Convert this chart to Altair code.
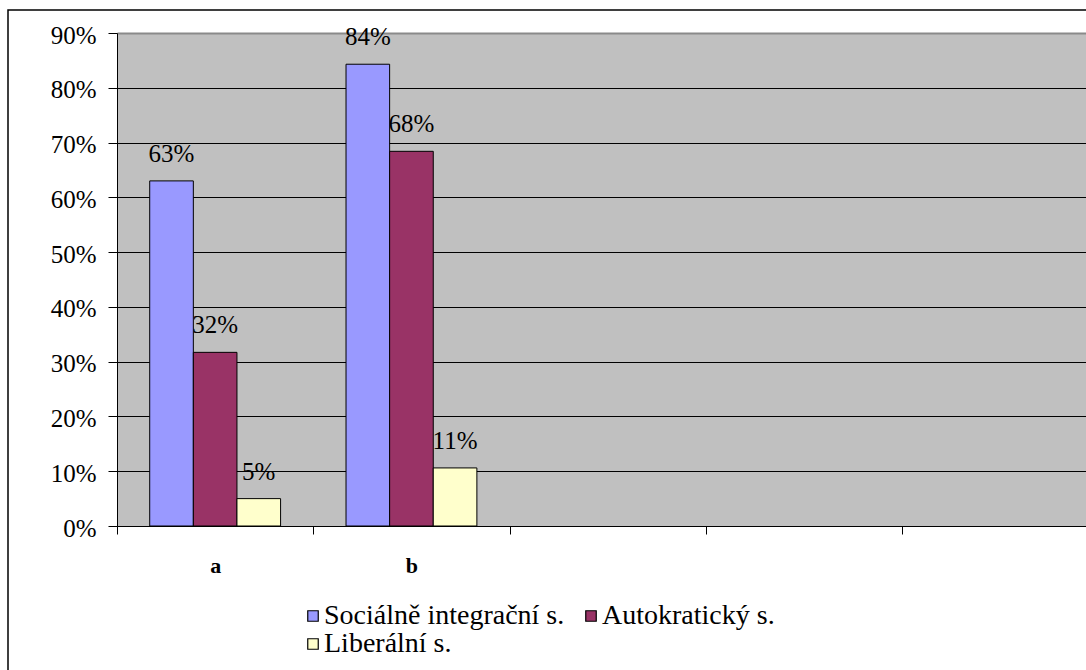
import altair as alt
import pandas as pd

# Category slots along the x axis (only the first two hold data)
slots = ["a", "b", "c", "d", "e"]
categories = ["a", "b"]
series = ["Sociálně integrační s.", "Autokratický s.", "Liberální s."]
colors = ["#9999FF", "#993366", "#FFFFCC"]

# Shares per category, one list per series
social = [0.63, 0.843]
autocratic = [0.317, 0.684]
liberal = [0.05, 0.106]

y_ticks = [0.0, 0.1, 0.2, 0.3, 0.4, 0.5, 0.6, 0.7, 0.8, 0.9]

rows = []
for name, vals in zip(series, [social, autocratic, liberal]):
    for cat, v in zip(categories, vals):
        rows.append({"category": cat, "series": name, "value": v})
df = pd.DataFrame(rows)

FONT = "Liberation Serif"

x_enc = alt.X(
    "category:N",
    scale=alt.Scale(domain=slots, range=[0, 981.5], paddingInner=0, paddingOuter=0),
    axis=alt.Axis(
        title=None,
        labelExpr="indexof(['a','b'], datum.value) >= 0 ? datum.value : ''",
        labelAngle=0,
        labelFont=FONT,
        labelFontSize=22,
        labelFontWeight="bold",
        labelColor="black",
        labelPadding=21,
        tickBand="extent",
        tickSize=8,
        tickColor="black",
        domainColor="black",
        grid=False,
    ),
)
xoff_enc = alt.XOffset(
    "series:N",
    sort=series,
    scale=alt.Scale(domain=series, paddingInner=0, paddingOuter=0.75),
)
y_enc = alt.Y(
    "value:Q",
    scale=alt.Scale(domain=[0, 0.9], nice=False),
    axis=alt.Axis(
        title=None,
        values=y_ticks,
        format=".0%",
        labelFont=FONT,
        labelFontSize=25,
        labelColor="black",
        labelPadding=12,
        labelOffset=2,
        tickSize=9,
        tickColor="black",
        domainColor="black",
        grid=True,
        gridColor={"condition": {"test": "datum.value >= 0.9", "value": "#8a8a8a"}, "value": "black"},
        gridWidth={"condition": {"test": "datum.value >= 0.9", "value": 2}, "value": 1},
    ),
)

base = alt.Chart(df).encode(x=x_enc, xOffset=xoff_enc, y=y_enc)

labels = base.mark_text(
    font=FONT, fontSize=25, color="black", baseline="alphabetic", dy=-19
).encode(text=alt.Text("value:Q", format=".0%"))

bars = base.mark_bar(stroke="black", strokeWidth=1).encode(
    color=alt.Color(
        "series:N",
        sort=series,
        scale=alt.Scale(domain=series, range=colors),
        legend=alt.Legend(
            title=None,
            orient="none",
            legendX=182,
            legendY=569,
            columns=2,
            direction="horizontal",
            symbolType="square",
            symbolSize=110,
            symbolStrokeColor="black",
            symbolStrokeWidth=1.2,
            symbolOpacity=1,
            labelFont=FONT,
            labelFontSize=28,
            labelColor="black",
            labelOffset={"expr": "-3"},
            columnPadding=12,
            rowPadding={"expr": "-6"},
            padding=0,
            labelLimit=400,
        ),
    )
)

# Outer frame of the chart area (left and top edges fall inside the page)
frame = alt.Chart(pd.DataFrame({"k": [0]})).mark_rect(
    fillOpacity=0, stroke="black", strokeWidth=1.5
).encode(
    x=alt.value(-109), x2=alt.value(1300), y=alt.value(-23), y2=alt.value(900)
)

chart = (
    alt.layer(frame, labels, bars)
    .properties(
        width=969,
        height=493,
        autosize=alt.AutoSizeParams(type="none"),
        padding={"left": 117, "top": 33, "right": 0, "bottom": 144},
        background="white",
    )
    .configure(font=FONT)
    .configure_view(fill="#C0C0C0", stroke=None)
)

chart.save("out.html", embed_options={"renderer": "svg", "actions": False})
